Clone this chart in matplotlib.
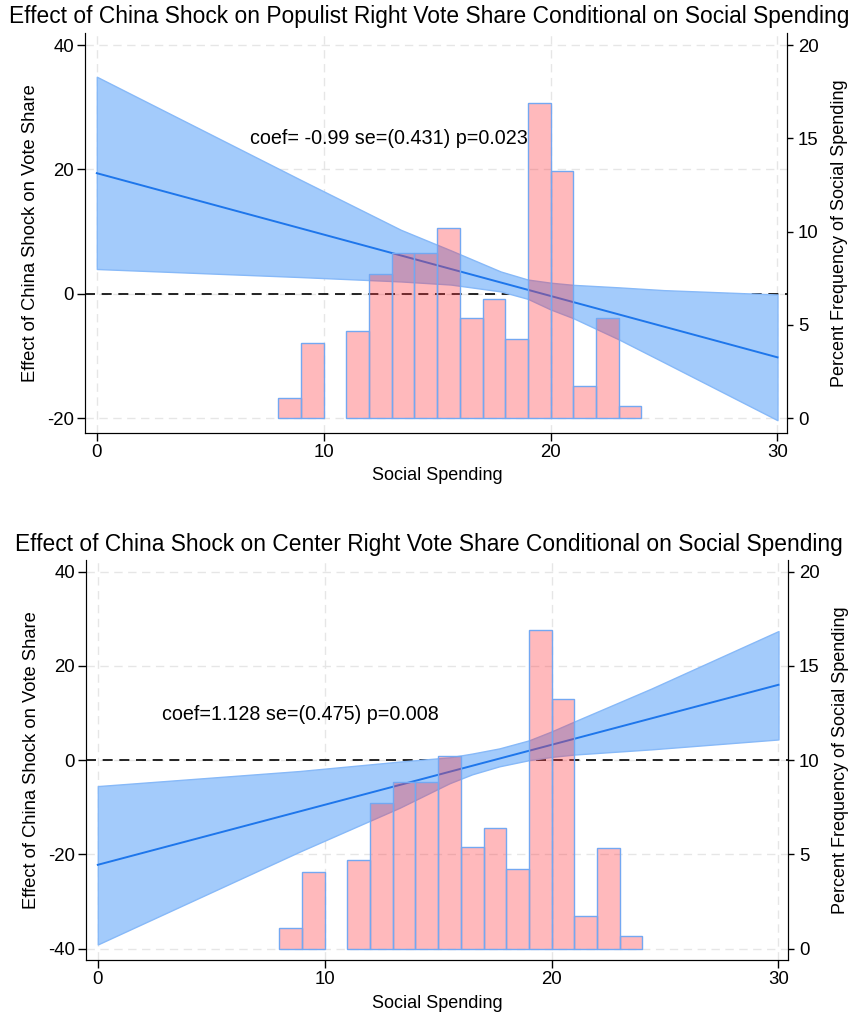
import matplotlib
matplotlib.use("Agg")
import matplotlib.pyplot as plt
import numpy as np

plt.rcParams['font.family'] = ['Liberation Sans', 'DejaVu Sans']
plt.rcParams['axes.unicode_minus'] = False

# ---- data ----
bin_left = [8, 9, 11, 12, 13, 14, 15, 16, 17, 18, 19, 20, 21, 22, 23]
bin_pct = [1.1, 4.05, 4.7, 7.75, 8.85, 8.85, 10.2, 5.4, 6.4, 4.25, 16.9, 13.25, 1.75, 5.35, 0.65]

fit_x = [0, 30]
top_fit = [19.4, -10.2]
bot_fit = [-22.2, 16.0]

top_ci_x = [0, 9, 13.4, 15.6, 17.8, 19, 20, 21, 23, 25, 30]
top_ci_hi = [34.9, 18.3, 10.3, 7.0, 3.6, 2.3, 1.8, 1.45, 1.05, 0.6, -0.1]
top_ci_lo = [4.0, 2.7, 2.0, 1.5, 0.4, -0.8, -2.5, -3.9, -7.3, -11.0, -20.3]

bot_ci_x = [0, 8.9, 13.3, 15.5, 16.5, 17.7, 19, 20, 21, 24.4, 30]
bot_ci_hi = [-5.5, -2.3, -0.3, 0.6, 1.4, 2.5, 4.2, 6.1, 8.2, 15.2, 27.4]
bot_ci_lo = [-39.1, -19.4, -10.1, -4.9, -3.0, -1.3, 0.0, 0.7, 1.2, 2.3, 4.4]

titles = ["Effect of China Shock on Populist Right Vote Share Conditional on Social Spending",
          "Effect of China Shock on Center Right Vote Share Conditional on Social Spending"]
notes = ["coef= -0.99 se=(0.431) p=0.023", "coef=1.128 se=(0.475) p=0.008"]
note_pos = [(6.75, 24.9), (2.85, 9.8)]
left_ticks = [[-20, 0, 20, 40], [-40, -20, 0, 20, 40]]
left_lims = [(-22.36, 41.93), (-42.40, 42.48)]
right_ticks = [0, 5, 10, 15, 20]

W, H = 859, 1016
fig = plt.figure(figsize=(W / 100, H / 100), dpi=100)

ci_face = (163 / 255, 203 / 255, 251 / 255)
ci_edge = (135 / 255, 185 / 255, 248 / 255)
line_c = (30 / 255, 118 / 255, 235 / 255)
bar_face = (1.0, 0.216, 0.25, 0.35)
bar_edge = (115 / 255, 168 / 255, 242 / 255, 1.0)

boxes = [(85, 33, 787, 433), (86, 560, 788, 960)]
panels = [
    (top_fit, top_ci_x, top_ci_hi, top_ci_lo),
    (bot_fit, bot_ci_x, bot_ci_hi, bot_ci_lo),
]
title_y = [17, 544]
xlabel_y = [476, 1003]

for i in range(2):
    x0, y0, x1, y1 = boxes[i]
    ax = fig.add_axes([x0 / W, 1 - y1 / H, (x1 - x0) / W, (y1 - y0) / H])
    fit, cx, chi, clo = panels[i]
    ax.set_xlim(-0.52, 30.42)
    ax.set_ylim(*left_lims[i])
    ax.set_axisbelow(True)
    ax.grid(True, color='#e6e6e6', linestyle=(0, (6, 4)), linewidth=1.0, zorder=0)
    ax.axhline(0, color='black', linestyle=(0, (6, 4)), linewidth=1.2, zorder=1)
    ax.fill_between(cx, clo, chi, facecolor=ci_face, edgecolor=ci_edge, linewidth=1.0, zorder=2)
    ax.plot(fit_x, fit, color=line_c, linewidth=1.4, zorder=3)
    ax.text(note_pos[i][0], note_pos[i][1], notes[i], fontsize=14.2, va='center', ha='left', zorder=4)
    ax.set_xticks([0, 10, 20, 30])
    ax.set_yticks(left_ticks[i])
    ax.tick_params(direction='out', length=5.5, width=1, labelsize=13.4, pad=2.5)
    ax.spines['top'].set_visible(False)
    ax.spines['left'].set_color('#444444')
    ax.set_ylabel("Effect of China Shock on Vote Share", fontsize=13.2, labelpad=6)

    ax2 = ax.twinx()
    lo, hi = left_lims[i]
    if i == 0:
        ax2.set_ylim((lo + 20) / 3, (hi + 20) / 3)
    else:
        ax2.set_ylim((lo + 40) / 4, (hi + 40) / 4)
    ax2.bar(bin_left, bin_pct, width=1.0, align='edge', facecolor=bar_face,
            edgecolor=bar_edge, linewidth=1.0, zorder=5)
    ax2.set_yticks(right_ticks)
    ax2.tick_params(direction='out', length=4, width=1, labelsize=13.4, pad=4)
    ax2.spines['top'].set_visible(False)
    ax2.set_ylabel("Percent Frequency of Social Spending", fontsize=13, labelpad=9)

    fig.text(437 / W, 1 - xlabel_y[i] / H, "Social Spending", fontsize=13, ha='center', va='center')
    fig.text(429 / W, 1 - title_y[i] / H, titles[i], fontsize=16.4, ha='center', va='center')

fig.savefig("out.png", dpi=100)
